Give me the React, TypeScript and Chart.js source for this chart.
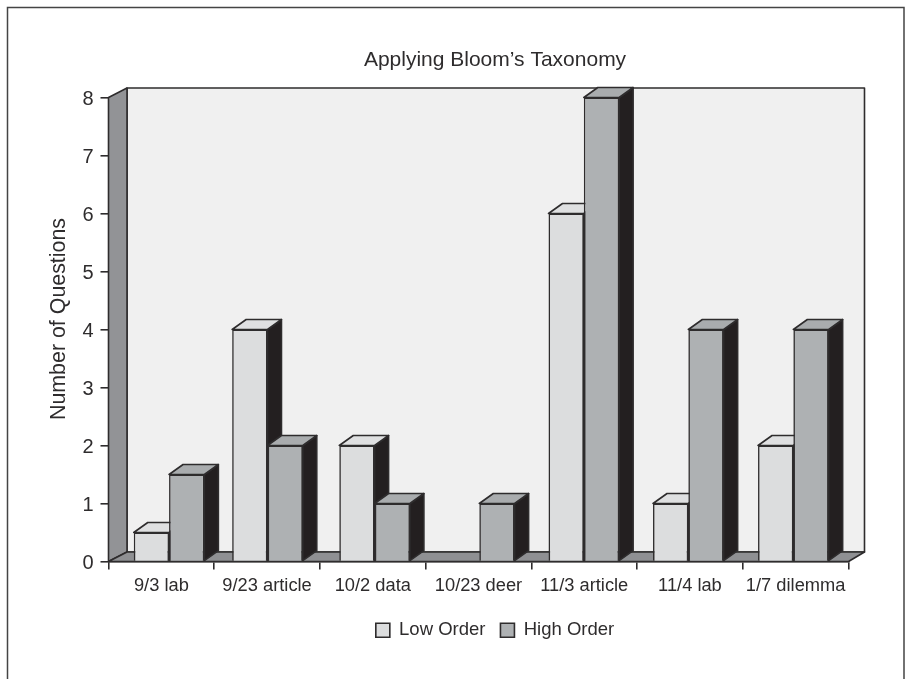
import { useEffect, useRef } from "react";
import { Chart, registerables } from "chart.js";

Chart.register(...registerables);

const categories = ["9/3 lab", "9/23 article", "10/2 data", "10/23 deer", "11/3 article", "11/4 lab", "1/7 dilemma"];
const lowOrder = [0.5, 4, 2, 0, 6, 1, 2];
const highOrder = [1.5, 2, 1, 1, 8, 4, 4];
const seriesNames = ["Low Order", "High Order"];
const chartTitle = "Applying Bloom\u2019s Taxonomy";
const yAxisTitle = "Number of Questions";

// Styling only: small horizontal nudges of each bar group, as in the original artwork
const groupNudge = [7.7, 0.4, 1.8, 0.8, -0.4, -1.6, -2.3];
const FONT = "'Liberation Sans', Arial, sans-serif";
const INK = "#2e2c2d";
const LINE = 1.6;
const AREA = { left: 108.5, right: 848.5, top: 97.5, bottom: 561.5 };
const WALL = { dx: 18.5, dy: 9.5 };
const BAR3D = { dx: 14, dy: 10 };
const FILL = {
  wall: "#f0f0f0", side: "#929396", floor: "#8f9093",
  low: "#dcddde", high: "#aeb1b3", lowTop: "#dfe0e1", highTop: "#a9acae", dark: "#231f20",
};

function poly(ctx: CanvasRenderingContext2D, pts: number[][], fill: string) {
  ctx.beginPath();
  pts.forEach(([x, y], i) => (i ? ctx.lineTo(x, y) : ctx.moveTo(x, y)));
  ctx.closePath();
  ctx.fillStyle = fill;
  ctx.fill();
  ctx.stroke();
}

const depthPlugin = {
  id: "depth",
  afterLayout(chart: any) {
    const lg = chart.legend;
    const w = lg.right - lg.left;
    lg.left = 495 - w / 2;
    lg.right = lg.left + w;
    const h = lg.bottom - lg.top;
    lg.top = 606;
    lg.bottom = lg.top + h;
    const t = chart.titleBlock;
    const tw = t.right - t.left;
    t.left = 495 - tw / 2;
    t.right = t.left + tw;
    const th = t.bottom - t.top;
    t.top = 47.5;
    t.bottom = t.top + th;
  },
  afterDatasetsUpdate(chart: any) {
    chart.data.datasets.forEach((_: any, d: number) => {
      chart.getDatasetMeta(d).data.forEach((el: any, i: number) => {
        el.x += groupNudge[i];
      });
    });
  },
  beforeDatasetsDraw(chart: any) {
    const ctx: CanvasRenderingContext2D = chart.ctx;
    const { left, right, top, bottom } = chart.chartArea;
    const { dx, dy } = WALL;
    ctx.save();
    ctx.lineWidth = LINE;
    ctx.strokeStyle = INK;
    ctx.lineJoin = "round";
    poly(ctx, [[left + dx, top - dy], [right + 16, top - dy], [right + 16, bottom - dy], [left + dx, bottom - dy]], FILL.wall);
    poly(ctx, [[left, top], [left + dx, top - dy], [left + dx, bottom - dy], [left, bottom]], FILL.side);
    poly(ctx, [[left, bottom], [left + dx, bottom - dy], [right + 16, bottom - dy], [right, bottom]], FILL.floor);
    chart.data.datasets.forEach((_: any, d: number) => {
      chart.getDatasetMeta(d).data.forEach((el: any, i: number) => {
        if (!chart.data.datasets[d].data[i]) return;
        const l = el.x - el.width / 2;
        const r = el.x + el.width / 2;
        const y = el.y;
        const b = el.base;
        const x2 = BAR3D.dx;
        const y2 = BAR3D.dy;
        poly(ctx, [[r, y], [r + x2, y - y2], [r + x2, b - y2], [r, b]], FILL.dark);
        poly(ctx, [[l, y], [l + x2, y - y2], [r + x2, y - y2], [r, y]], d ? FILL.highTop : FILL.lowTop);
      });
    });
    ctx.restore();
  },
  afterDraw(chart: any) {
    const ctx: CanvasRenderingContext2D = chart.ctx;
    ctx.save();
    // outer frame, open at the bottom edge
    ctx.strokeStyle = "#444";
    ctx.lineWidth = 1.5;
    ctx.beginPath();
    ctx.moveTo(7.5, 679);
    ctx.lineTo(7.5, 7.5);
    ctx.lineTo(904, 7.5);
    ctx.lineTo(904, 679);
    ctx.stroke();
    ctx.translate(59.5, 319);
    ctx.rotate(-Math.PI / 2);
    ctx.fillStyle = INK;
    ctx.font = `21.4px ${FONT}`;
    ctx.textAlign = "center";
    ctx.textBaseline = "middle";
    ctx.fillText(yAxisTitle, 0, 0);
    ctx.restore();
  },
};

export default function App() {
  const ref = useRef<HTMLCanvasElement>(null);
  useEffect(() => {
    const chart = new Chart(ref.current!, {
      type: "bar",
      data: {
        labels: categories,
        datasets: [
          { label: seriesNames[0], data: lowOrder, backgroundColor: FILL.low, borderColor: INK, borderWidth: LINE },
          { label: seriesNames[1], data: highOrder, backgroundColor: FILL.high, borderColor: INK, borderWidth: LINE },
        ],
      },
      options: {
        responsive: false,
        animation: false,
        layout: { padding: { left: AREA.left - 60, right: 905 - AREA.right, top: 72.3, bottom: 5.5 } },
        datasets: { bar: { barPercentage: 1, categoryPercentage: 0.668 } },
        plugins: {
          tooltip: { enabled: false },
          title: { display: true, text: chartTitle, color: INK, font: { family: FONT, size: 21, weight: "normal" }, padding: 0, fullSize: false },
          legend: {
            position: "bottom",
            fullSize: false,
            labels: { boxWidth: 14, boxHeight: 14, color: INK, font: { family: FONT, size: 18.5 }, padding: 15 },
          },
        },
        scales: {
          x: {
            afterFit: (s: any) => { s.height = 679 - AREA.bottom - 49; },
            grid: { drawOnChartArea: false, tickLength: 8, color: INK, lineWidth: LINE, offset: true },
            border: { color: INK, width: LINE },
            ticks: { color: INK, font: { family: FONT, size: 18.3 }, padding: 5, maxRotation: 0, autoSkip: false },
          },
          y: {
            min: 0,
            max: 8,
            afterFit: (s: any) => { s.width = 60; },
            grid: { drawOnChartArea: false, tickLength: 8, color: INK, lineWidth: LINE },
            border: { color: INK, width: LINE },
            ticks: { stepSize: 1, color: INK, font: { family: FONT, size: 20 }, padding: 7, labelOffset: 1.5 },
          },
        },
      },
      plugins: [depthPlugin],
    } as any);
    return () => chart.destroy();
  }, []);
  return (
    <canvas
      ref={ref}
      width={905}
      height={679}
      style={{ position: "absolute", left: 0, top: 0, display: "block", background: "#fff" }}
    />
  );
}
